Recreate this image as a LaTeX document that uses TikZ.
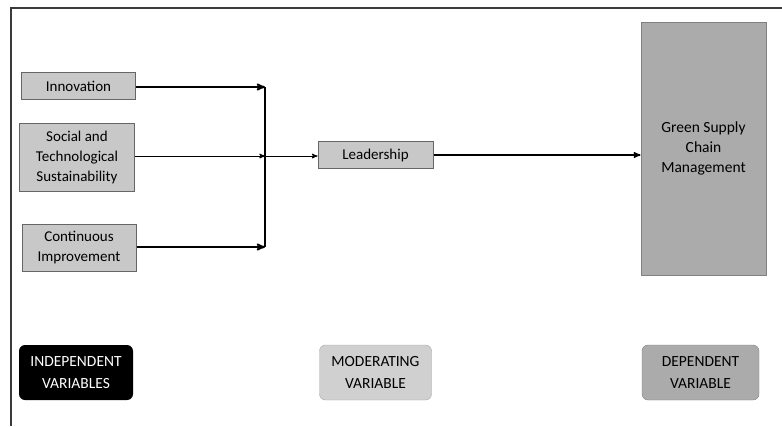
\documentclass[tikz,border=0pt]{standalone}
\usepackage{fontspec}
\setmainfont{Carlito}
\usepackage{tikz}
\usetikzlibrary{positioning}
\usetikzlibrary{arrows}
\definecolor{boxgray}{HTML}{C8C8C8}
\definecolor{biggray}{HTML}{ABABAB}
\definecolor{edgegray}{HTML}{666666}
\definecolor{framegray}{HTML}{3A3A3A}
\tikzset{
  varnode/.style = {align=center, inner sep=0pt, text centered,
    font=\fontsize{15}{20}\selectfont},
  var_ind/.style = {varnode, rectangle, fill=boxgray, draw=edgegray,
    line width=1pt},% variable box, left side
  var_dep/.style = {varnode, rectangle, fill=biggray, draw=gray,
    line width=0.8pt, font=\fontsize{15.5}{20}\selectfont},% the big one
  key_n/.style = {varnode, rectangle, rounded corners=6pt,
    minimum height=55pt, font=\fontsize{15.5}{22}\selectfont},% legend key
  flow/.style = {->, >=stealth', draw=black}
}
\begin{document}
\begin{tikzpicture}[x=1pt,y=-1pt]
\useasboundingbox (0,0) rectangle (782,426);
% frame
\draw[framegray, line width=1.2pt] (782,8) -- (11,8) -- (11,426);
% variables
\node [var_ind, minimum width=114pt, minimum height=27pt] (innov) at (78.5,86) {Innovation};
\node [var_ind, minimum width=115pt, minimum height=68pt] (social) at (77,157)
  {Social and\\Technological\\Sustainability};
\node [var_ind, minimum width=114pt, minimum height=47pt] (contin) at (79,247.5)
  {Continuous\\Improvement};
\node [var_ind, minimum width=115pt, minimum height=27pt] (lead) at (375.5,155) {Leadership};
\node [var_dep, minimum width=125pt, minimum height=253pt] (gscm) at (703.5,148.5)
  {Green Supply\\Chain\\Management};
% junction
\coordinate (jtop) at (265,87);
\coordinate (jmid) at (265,156);
\coordinate (jbot) at (265,247);
\draw [flow, line width=1.8pt] (innov.east |- jtop) -- (jtop);
\draw [flow, line width=1pt] (social.east |- jmid) -- (jmid);
\draw [flow, line width=1.8pt] (contin.east |- jbot) -- (jbot);
\draw [line width=1.2pt] (jtop) -- (jbot);
\draw [flow, line width=1pt] (jmid) -- (lead.west |- jmid);
\draw [flow, line width=1.4pt] (lead.east) -- (lead.east -| gscm.west);
% legend
\node [key_n, fill=black, text=white, minimum width=114pt] (kind) at (76,372.5)
  {INDEPENDENT\\VARIABLES};
\node [key_n, fill=boxgray!85, draw=gray!70, minimum width=112pt] (kmod) at (375.5,372.5)
  {MODERATING\\VARIABLE};
\node [key_n, fill=biggray, draw=gray, minimum width=117pt] (kdep) at (700.5,372.5)
  {DEPENDENT\\VARIABLE};
\end{tikzpicture}
\end{document}
